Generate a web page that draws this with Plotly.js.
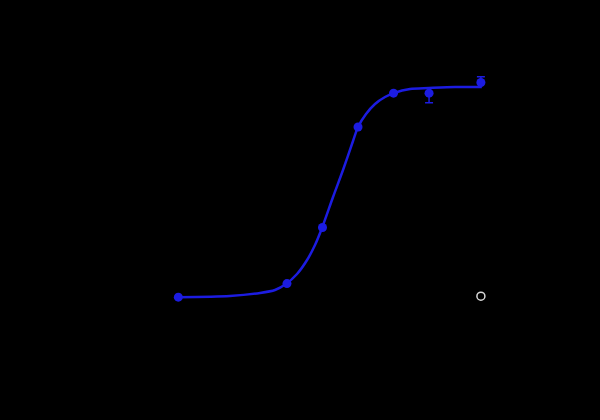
<!DOCTYPE html>
<html>
<head>
<meta charset="utf-8">
<script src="https://cdn.plot.ly/plotly-3.0.1.min.js"></script>
<style>
  html, body { margin: 0; padding: 0; background: #000; }
  #chart { width: 600px; height: 420px; }
</style>
</head>
<body>
<div id="chart"></div>
<script>
// measured points (concentration, OD)
const conc = [0.03, 0.25, 0.5, 1, 2, 4, 11];
const od = [0.34, 0.48, 1.06, 2.10, 2.45, 2.45, 2.56];
const errUp = [0, 0, 0, 0, 0, 0.01, 0.06];
const errDown = [0, 0, 0, 0, 0, 0.10, 0.01];

// fitted curve
const curveConc = [0.03, 0.082, 0.148, 0.198, 0.245, 0.304, 0.370, 0.432, 0.495, 0.614, 0.746, 0.907, 1, 1.169, 1.393, 1.694, 2.02, 2.76, 4.0, 6.64, 11.2];
const curveOd = [0.34, 0.352, 0.383, 0.414, 0.476, 0.579, 0.724, 0.879, 1.055, 1.376, 1.655, 1.955, 2.10, 2.234, 2.338, 2.41, 2.452, 2.493, 2.503, 2.514, 2.514];

// blank control
const ctrlConc = [11];
const ctrlOd = [0.35];

const blue = "rgb(28,28,225)";

const traces = [
    {
        x: curveConc,
        y: curveOd,
        mode: "lines",
        line: {color: blue, width: 2.5, shape: "spline", smoothing: 0.8},
        hoverinfo: "skip",
        showlegend: false
    },
    {
        x: conc,
        y: od,
        mode: "markers",
        marker: {color: blue, size: 9, symbol: "circle"},
        error_y: {type: "data", symmetric: false, array: errUp, arrayminus: errDown,
                  color: blue, thickness: 1.5, width: 4},
        name: "Sample",
        showlegend: false
    },
    {
        x: ctrlConc,
        y: ctrlOd,
        mode: "markers",
        marker: {color: "#d8d8d8", size: 8, symbol: "circle-open", line: {width: 1.5}},
        name: "Control",
        showlegend: false
    }
];

const axisFont = {family: "Arial, Liberation Sans, sans-serif", size: 12, color: "#000"};

const layout = {
    width: 600,
    height: 420,
    paper_bgcolor: "#000",
    plot_bgcolor: "#000",
    margin: {l: 150, r: 90, t: 40, b: 90},
    font: axisFont,
    xaxis: {
        type: "log",
        range: [-1.763, 1.288],
        showgrid: false,
        zeroline: false,
        showline: true,
        linecolor: "#000",
        ticks: "outside",
        tickcolor: "#000",
        tickfont: axisFont,
        title: {text: "Concentration (ng/mL)", font: axisFont}
    },
    yaxis: {
        range: [0, 3],
        showgrid: false,
        zeroline: false,
        showline: true,
        linecolor: "#000",
        ticks: "outside",
        tickcolor: "#000",
        tickfont: axisFont,
        dtick: 0.5,
        title: {text: "OD 450 nm", font: axisFont}
    }
};

Plotly.newPlot("chart", traces, layout, {displayModeBar: false, staticPlot: true});
</script>
</body>
</html>
